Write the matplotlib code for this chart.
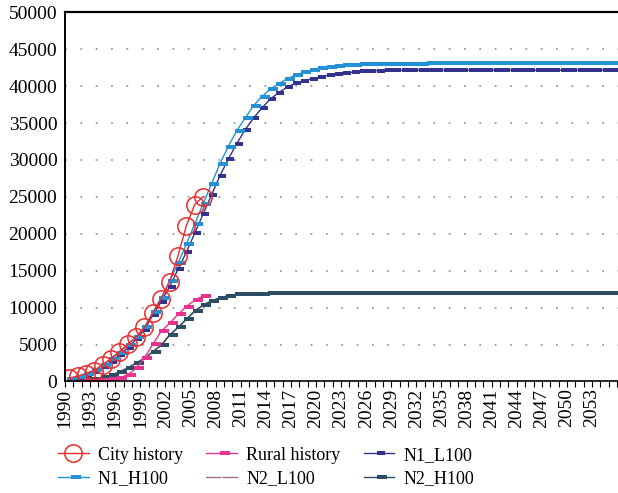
import matplotlib
matplotlib.use("Agg")
import matplotlib.pyplot as plt
from matplotlib.path import Path
import numpy as np

plt.rcParams.update({
    "font.family": "Liberation Serif",
    "font.size": 13,
})

# categories (one per year)
years = list(range(1990, 2057))

# history series (1990-2006)
city_history = [440, 730, 1070, 1480, 2290, 3100, 4050, 5040, 6010, 7310,
                9250, 11190, 13530, 17000, 21070, 23950, 25030]
rural_history = [0, 20, 50, 100, 180, 300, 500, 900, 1800, 3220,
                 5030, 6830, 7870, 9090, 10130, 11030, 11570]

# scenario series (1990-2056)
n1_l100 = [250, 500, 850, 1300, 1900, 2650, 3550, 4550, 5700, 7000,
           9010, 10800, 12830, 15180, 17490, 20060, 22630, 25240, 27810, 30080,
           32150, 34040, 35620, 36980, 38200, 39090, 39820, 40360, 40720, 41000,
           41250, 41450, 41620, 41780, 41900, 41980, 42050, 42100, 42120, 42130,
           42150, 42150, 42150, 42150, 42150, 42150, 42150, 42150, 42150, 42150,
           42150, 42150, 42150, 42150, 42150, 42150, 42150, 42150, 42150, 42150,
           42150, 42150, 42150, 42150, 42150, 42150, 42150]
n1_h100 = [340, 650, 1050, 1550, 2200, 3000, 3900, 4940, 6060, 7330,
           9360, 11340, 13600, 16000, 18570, 21320, 24030, 26730, 29440, 31780,
           33910, 35620, 37290, 38550, 39550, 40310, 40950, 41490, 41850, 42160,
           42400, 42600, 42700, 42800, 42850, 42950, 42980, 43000, 43000, 43000,
           43000, 43000, 43000, 43100, 43100, 43100, 43100, 43100, 43100, 43100,
           43100, 43100, 43100, 43100, 43100, 43100, 43100, 43100, 43100, 43100,
           43100, 43100, 43100, 43100, 43100, 43100, 43100]
n2_l100 = [140, 200, 270, 390, 560, 830, 1270, 1800, 2450, 3100,
           3980, 4900, 6230, 7280, 8380, 9500, 10320, 10880, 11320, 11600,
           11790, 11840, 11880, 11900, 11920, 11940, 11950, 11960, 11970, 11980,
           12000, 12000, 12000, 12000, 12000, 12000, 12000, 12000, 12000, 12000,
           12000, 12000, 12000, 12000, 12000, 12000, 12000, 12000, 12000, 12000,
           12000, 12000, 12000, 12000, 12000, 12000, 12000, 12000, 12000, 12000,
           12000, 12000, 12000, 12000, 12000, 12000, 12000]
n2_h100 = [150, 200, 280, 400, 580, 850, 1300, 1850, 2500, 3150,
           4030, 4940, 6290, 7330, 8420, 9540, 10350, 10900, 11340, 11610,
           11800, 11840, 11880, 11900, 11920, 11940, 11950, 11960, 11970, 11980,
           12000, 12000, 12000, 12000, 12000, 12000, 12000, 12000, 12000, 12000,
           12000, 12000, 12000, 12000, 12000, 12000, 12000, 12000, 12000, 12000,
           12000, 12000, 12000, 12000, 12000, 12000, 12000, 12000, 12000, 12000,
           12000, 12000, 12000, 12000, 12000, 12000, 12000]

# excel-like "dash" marker, sits a little right of the point
dash = Path([(-0.3, -0.25), (1, -0.25), (1, 0.25), (-0.3, 0.25), (-0.3, -0.25)],
            [Path.MOVETO, Path.LINETO, Path.LINETO, Path.LINETO, Path.CLOSEPOLY])

x_all = np.arange(len(years))
x_hist = np.arange(len(city_history))

fig = plt.figure(figsize=(6.18, 4.93), dpi=100)
ax = fig.add_axes([65 / 618, 0.2262, 1 - 65 / 618, 0.749])

h_n2l, = ax.plot(x_all, n2_l100, color="#a27480", lw=1, marker="s", ms=2,
                 mfc="#bfe3f5", mew=0, label="N2_L100")
h_n2h, = ax.plot(x_all, n2_h100, color="#2c4d63", lw=1, marker=dash, ms=11,
                 mfc="#2c4d63", mew=0, label="N2_H100")
h_rur, = ax.plot(x_hist, rural_history, color="#e8338e", lw=1, marker=dash, ms=11,
                 mfc="#e8338e", mew=0, label="Rural history")
h_n1l, = ax.plot(x_all, n1_l100, color="#33338f", lw=1, marker=dash, ms=9,
                 mfc="#33338f", mew=0, label="N1_L100")
h_n1h, = ax.plot(x_all, n1_h100, color="#2392d4", lw=1, marker=dash, ms=12,
                 mfc="#2392d4", mew=0, label="N1_H100")
h_city, = ax.plot(x_hist, city_history, color="#ec2a2a", lw=1, marker="o", ms=12.5,
                  mfc="none", mec="#ec2a2a", mew=1.1, label="City history")

ax.set_ylim(0, 50000)
ax.set_yticks(np.arange(0, 50001, 5000))
ax.set_yticklabels([str(v) for v in range(0, 50001, 5000)])
ax.set_xlim(-0.5, 65.6)

tick_pos = x_all - 0.5
ax.set_xticks(tick_pos)
ax.set_xticklabels([str(y) if (y - 1990) % 3 == 0 and y <= 2053 else "" for y in years],
                   rotation=90)
ax.tick_params(axis="x", length=4, width=0.8, pad=1, labelsize=14)
ax.tick_params(axis="y", length=0, pad=5.5, labelsize=14)

for v in range(5000, 50000, 5000):
    ax.axhline(v, color="#9a9a9a", lw=1.3, ls=(0, (1, 7.5)), zorder=0)

ax.spines["right"].set_visible(False)
ax.spines["top"].set_linewidth(1.6)
ax.spines["left"].set_linewidth(1.4)
ax.spines["bottom"].set_linewidth(1.2)

handles = [h_city, h_n1h, h_rur, h_n2l, h_n1l, h_n2h]
fig.legend(handles, [h.get_label() for h in handles], ncol=3, frameon=False,
           loc="upper left", bbox_to_anchor=(49 / 618, 0.112), borderpad=0,
           handlelength=1.7, handletextpad=0.5, columnspacing=1.3,
           labelspacing=0.35, fontsize=13)

fig.savefig("out.png", dpi=100)
